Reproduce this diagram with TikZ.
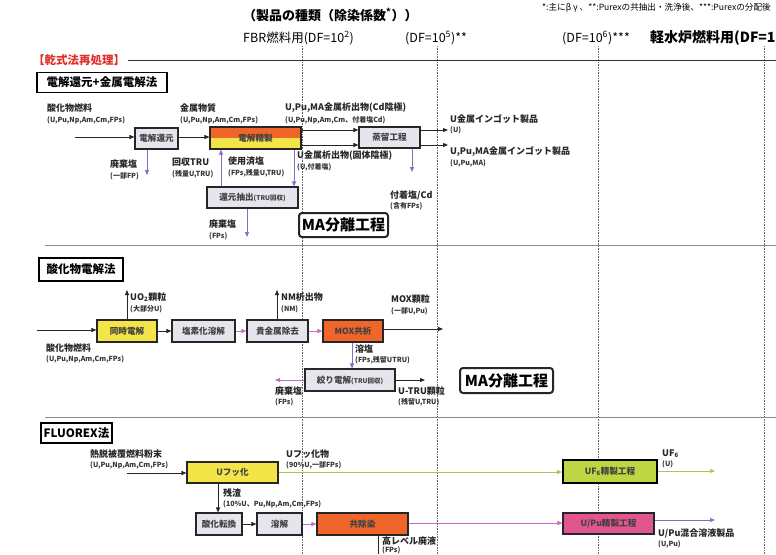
\documentclass[tikz,border=0pt]{standalone}
\usepackage{fontspec}
\setmainfont{Noto Sans CJK JP}
\usetikzlibrary{arrows.meta}
\definecolor{cOrange}{HTML}{F0662A}
\definecolor{cYellow}{HTML}{F3E447}
\definecolor{cGray}{HTML}{E6E4EC}
\definecolor{cPink}{HTML}{E2558E}
\definecolor{cYG}{HTML}{BDD642}
\definecolor{cGreen}{HTML}{A6CB55}
\definecolor{cPurple}{HTML}{8C6AC8}
\definecolor{cMag}{HTML}{C46CC6}
\definecolor{cRed}{HTML}{E0302A}
\definecolor{cLine}{HTML}{8A8A8A}
\newcommand\fL{\fontsize{9}{10}\selectfont\bfseries}
\newcommand\fS{\fontsize{7}{8}\selectfont\bfseries}
\newcommand\fB{\fontsize{8.6}{9}\selectfont\bfseries}
\tikzset{
  pbox/.style={draw=black!85, line width=1.1pt, fill=cGray, inner sep=1pt, font=\fB, text=black!75},
  secbox/.style={draw=black, line width=1.1pt, fill=white, inner sep=2.5pt, font=\fontsize{11.5}{12}\selectfont\bfseries},
  mabox/.style={draw=black!85, line width=2pt, rounded corners=3pt, fill=white, inner sep=2pt, font=\fontsize{15}{16}\selectfont\bfseries},
  lbl/.style={anchor=west, inner sep=0pt, font=\fL, text=black!85},
  sub/.style={anchor=west, inner sep=0pt, font=\fS, text=black!80},
  arr/.style={-{Triangle[length=5pt,width=4pt]}, line width=0.9pt, black!85},
  parr/.style={-{Triangle[length=5pt,width=4pt]}, line width=0.9pt, cPurple},
  marr/.style={-{Triangle[length=5pt,width=4pt]}, line width=0.9pt, cMag},
  garr/.style={-{Triangle[length=5pt,width=4pt]}, line width=0.9pt, cGreen},
  vline/.style={densely dotted, line width=0.6pt, black!60},
  hline/.style={line width=0.6pt, cLine},
}
\begin{document}
\begin{tikzpicture}[x=1pt,y=-1pt]
\useasboundingbox (0,0) rectangle (776,554);
\clip (0,0) rectangle (776,554);
\fill[white] (0,0) rectangle (776,554);

% headers
\node[anchor=west, inner sep=0pt, font=\fontsize{13}{14}\selectfont\bfseries] (title) at (243,15) {（製品の種類（除染係数\textsuperscript{*}））};
\node[anchor=west, inner sep=0pt, font=\fontsize{8.6}{9}\selectfont] (foot) at (542,8) {*:主にβ γ 、**:Purexの共抽出・洗浄後、***:Purexの分配後};
\node[anchor=west, inner sep=0pt, font=\fontsize{12.5}{13}\selectfont] (h1) at (243,38) {FBR燃料用(DF=10\textsuperscript{2})};
\node[anchor=west, inner sep=0pt, font=\fontsize{12.5}{13}\selectfont] (h2) at (405,38) {(DF=10\textsuperscript{5})**};
\node[anchor=west, inner sep=0pt, font=\fontsize{12.5}{13}\selectfont] (h3) at (562,38) {(DF=10\textsuperscript{6})***};
\node[anchor=west, inner sep=0pt, font=\fontsize{14}{15}\selectfont\bfseries] (h4) at (650,38) {軽水炉燃料用(DF=1};

% grid lines
\coordinate (v1t) at (302,46); \coordinate (v1b) at (302,554);
\coordinate (v2t) at (437,46); \coordinate (v2b) at (437,554);
\coordinate (v3t) at (598,46); \coordinate (v3b) at (598,554);
\coordinate (v4t) at (764,46); \coordinate (v4b) at (764,554);
\draw[vline] (v1t) -- (v1b);
\draw[vline] (v2t) -- (v2b);
\draw[vline] (v3t) -- (v3b);
\draw[vline] (v4t) -- (v4b);

\node[anchor=west, inner sep=0pt, font=\fontsize{11.5}{12}\selectfont\bfseries, text=cRed] (dry) at (33,60) {【乾式法再処理】};
\coordinate (s0r) at (776,60);
\draw[line width=0.7pt, black!80] ([xshift=3pt]dry.east) -- (s0r);
\coordinate (s1l) at (45,245); \coordinate (s1r) at (776,245);
\coordinate (s2l) at (45,417); \coordinate (s2r) at (776,417);
\draw[hline] (s1l) -- (s1r);
\draw[hline] (s2l) -- (s2r);

% ===== Section 1 =====
\node[secbox, minimum width=130pt, minimum height=20pt] (sec1) at (102,82.5) {電解還元+金属電解法};

\node[pbox, minimum width=43pt, minimum height=21pt] (er) at (156.5,138.5) {電解還元};
\node[pbox, fill=cYellow, minimum width=91pt, minimum height=22pt,
  path picture={\fill[cOrange] (path picture bounding box.north west) rectangle (path picture bounding box.east);}] (es) at (255.5,138) {電解精製};
\node[pbox, minimum width=61pt, minimum height=21pt] (ds) at (389.5,137.5) {蒸留工程};
\node[pbox, minimum width=91pt, minimum height=21pt] (rx) at (252.5,197.5) {還元抽出{\fontsize{6.5}{7}\selectfont(TRU回収)}};
\node[mabox, minimum width=89pt, minimum height=24pt] (ma1) at (343.5,225) {MA分離工程};

\node[lbl] (t1a) at (47,108) {酸化物燃料};
\node[sub] (t1b) at (47,120) {(U,Pu,Np,Am,Cm,FPs)};
\node[lbl] (t2a) at (180,108) {金属物質};
\node[sub] (t2b) at (180,120) {(U,Pu,Np,Am,Cm,FPs)};
\node[lbl] (t3a) at (285,108) {U,Pu,MA金属析出物(Cd陰極)};
\node[sub] (t3b) at (285,120) {(U,Pu,Np,Am,Cm、付着塩Cd)};
\node[lbl] (t4a) at (297,156) {U金属析出物(固体陰極)};
\node[sub] (t4b) at (297,167) {(U,付着塩)};
\node[lbl] (t5a) at (450,119) {U金属インゴット製品};
\node[sub] (t5b) at (450,130.5) {(U)};
\node[lbl] (t6a) at (450,152) {U,Pu,MA金属インゴット製品};
\node[sub] (t6b) at (450,163) {(U,Pu,MA)};
\node[lbl] (t7a) at (110,164) {廃棄塩};
\node[sub] (t7b) at (110,176) {(一部FP)};
\node[lbl] (t8a) at (172,162) {回収TRU};
\node[sub] (t8b) at (172,174) {(残量U,TRU)};
\node[lbl] (t9a) at (228,161) {使用済塩};
\node[sub] (t9b) at (228,173) {(FPs,残量U,TRU)};
\node[lbl] (t10a) at (209,224) {廃棄塩};
\node[sub] (t10b) at (209,236) {(FPs)};
\node[lbl] (t11a) at (390,195) {付着塩/Cd};
\node[sub] (t11b) at (390,206) {(含有FPs)};

\coordinate (in1) at (75,137);
\draw[arr] (in1) -- (er.west |- in1);
\draw[arr] (er.east |- in1) -- (es.west |- in1);
\coordinate (ra) at (0,130); \coordinate (rb) at (0,145);
\draw[arr] (es.east |- ra) -- (ds.west |- ra);
\draw[arr] (es.east |- rb) -- (ds.west |- rb);
\coordinate (o1) at (448,130); \coordinate (o2) at (448,145);
\draw[arr] (ds.east |- o1) -- (o1);
\draw[arr] (ds.east |- o2) -- (o2);
\coordinate (w1) at (147,175);
\draw[parr] (er.south -| w1) -- (w1);
\coordinate (u1) at (221,0);
\draw[parr] (rx.north -| u1) -- (es.south -| u1);
\coordinate (d1) at (294,0);
\draw[parr] (es.south -| d1) -- (rx.north -| d1);
\coordinate (w2) at (247,237);
\draw[parr] (rx.south -| w2) -- (w2);
\coordinate (w3) at (412,172);
\draw[parr] (ds.south -| w3) -- (w3);

% ===== Section 2 =====
\node[secbox, minimum width=84pt, minimum height=23pt] (sec2) at (81,269.5) {酸化物電解法};
\node[pbox, fill=cYellow, minimum width=60pt, minimum height=22pt] (sj) at (127,331) {同時電解};
\node[pbox, minimum width=63pt, minimum height=22pt] (en) at (203.5,331) {塩素化溶解};
\node[pbox, minimum width=61pt, minimum height=22pt] (kj) at (277.5,331) {貴金属除去};
\node[pbox, fill=cOrange, minimum width=60pt, minimum height=22pt] (mox) at (353,331) {MOX共析};
\node[pbox, minimum width=90pt, minimum height=22pt] (sd) at (350,380) {絞り電解{\fontsize{6.5}{7}\selectfont(TRU回収)}};
\node[mabox, minimum width=93pt, minimum height=25pt] (ma2) at (506.5,380.5) {MA分離工程};

\node[lbl] (p1a) at (46,348) {酸化物燃料};
\node[sub] (p1b) at (46,359) {(U,Pu,Np,Am,Cm,FPs)};
\node[lbl] (p2a) at (130,297) {UO\textsubscript{2}顆粒};
\node[sub] (p2b) at (130,309) {(大部分U)};
\node[lbl] (p3a) at (281,297) {NM析出物};
\node[sub] (p3b) at (281,309) {(NM)};
\node[lbl] (p4a) at (391,299) {MOX顆粒};
\node[sub] (p4b) at (391,311) {(一部U,Pu)};
\node[lbl] (p5a) at (355,349) {溶塩};
\node[sub] (p5b) at (355,360) {(FPs,残留UTRU)};
\node[lbl] (p6a) at (275,391) {廃棄塩};
\node[sub] (p6b) at (275,402) {(FPs)};
\node[lbl] (p7a) at (398,391) {U-TRU顆粒};
\node[sub] (p7b) at (398,402) {(残留U,TRU)};

\coordinate (in2) at (37,330);
\draw[arr] (in2) -- (sj.west |- in2);
\draw[arr] (sj) -- (en);
\draw[marr] (en) -- (kj);
\draw[marr] (kj) -- (mox);
\coordinate (up1) at (127,290);
\draw[arr] (sj.north -| up1) -- (up1);
\coordinate (up2) at (277,290);
\draw[arr] (kj.north -| up2) -- (up2);
\coordinate (o3) at (443,329);
\draw[arr] (mox.east |- o3) -- (o3);
\coordinate (d2) at (352,0);
\draw[parr] (mox.south -| d2) -- (sd.north -| d2);
\coordinate (w4) at (275,380);
\draw[marr] (sd.west |- w4) -- (w4);
\coordinate (o4) at (425,380);
\draw[arr] (sd.east |- o4) -- (o4);

% ===== Section 3 =====
\node[secbox, minimum width=71pt, minimum height=20pt] (sec3) at (76.5,433) {FLUOREX法};
\node[pbox, fill=cYellow, minimum width=91pt, minimum height=21pt] (uf) at (232.5,472.5) {Uフッ化};
\node[draw=black, line width=2.2pt, fill=cYG, inner sep=1pt, font=\fB, text=black!75, minimum width=94pt, minimum height=23pt] (uf6) at (610,471.5) {UF\textsubscript{6}精製工程};
\node[pbox, minimum width=46pt, minimum height=22pt] (sk) at (219,524) {酸化転換};
\node[pbox, minimum width=45pt, minimum height=22pt] (yk) at (279.5,524) {溶解};
\node[pbox, fill=cOrange, minimum width=91pt, minimum height=22pt] (kj2) at (362.5,524) {共除染};
\node[pbox, fill=cPink, minimum width=91pt, minimum height=21pt] (up) at (608.5,523.5) {U/Pu精製工程};

\node[lbl] (f1a) at (90,454) {熱脱被覆燃料粉末};
\node[sub] (f1b) at (90,465) {(U,Pu,Np,Am,Cm,FPs)};
\node[lbl] (f2a) at (286,454) {Uフッ化物};
\node[sub] (f2b) at (286,465) {(90\%U,一部FPs)};
\node[lbl] (f3a) at (662,454) {UF\textsubscript{6}};
\node[sub] (f3b) at (662,464) {(U)};
\node[lbl] (f4a) at (223,493) {残渣};
\node[sub] (f4b) at (223,504) {(10\%U、Pu,Np,Am,Cm,FPs)};
\node[lbl] (f5a) at (658,533) {U/Pu混合溶液製品};
\node[sub] (f5b) at (658,544) {(U,Pu)};
\node[lbl] (f6a) at (382,541) {高レベル廃液};
\node[sub] (f6b) at (382,550) {(FPs)};

\coordinate (in3) at (127,473);
\draw[arr] (in3) -- (uf.west |- in3);
\coordinate (g1) at (0,472);
\draw[garr] (uf.east |- g1) -- (uf6.west |- g1);
\coordinate (o5) at (715,471);
\draw[garr] (uf6.east |- o5) -- (o5);
\coordinate (dd) at (218,0);
\draw[arr] (uf.south -| dd) -- (sk.north -| dd);
\draw[arr] (sk) -- (yk);
\draw[marr] (yk) -- (kj2);
\coordinate (m1) at (0,523);
\draw[marr] (kj2.east |- m1) -- (up.west |- m1);
\coordinate (o6) at (715,520);
\draw[parr] (up.east |- o6) -- (o6);
\coordinate (hl) at (378,554);
\draw[line width=0.9pt, black!85] (kj2.south -| hl) -- (hl);
\end{tikzpicture}
\end{document}
